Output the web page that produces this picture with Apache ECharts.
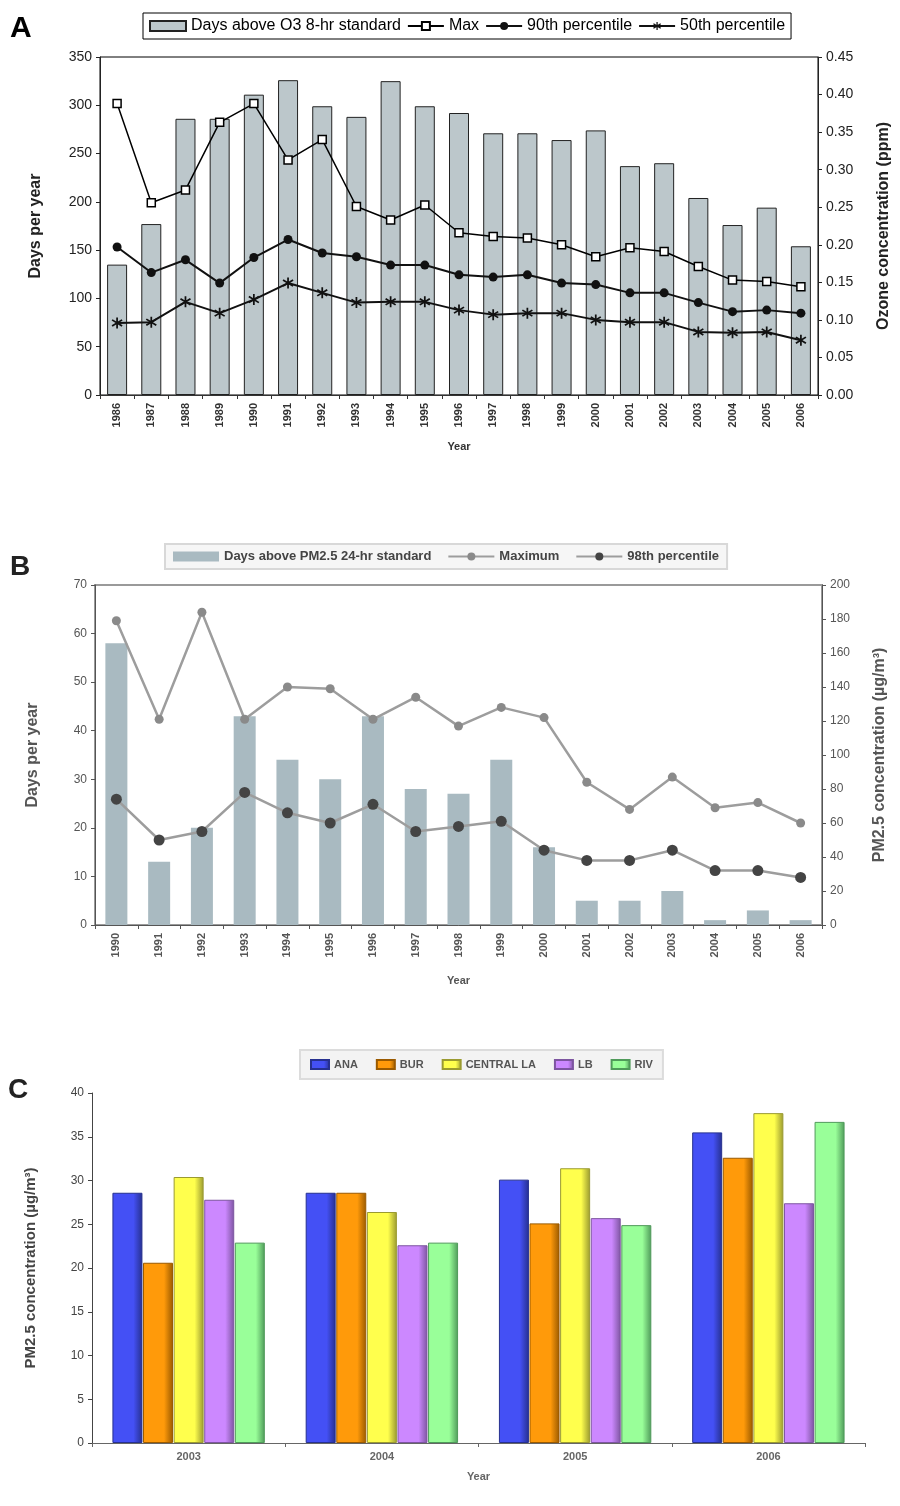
<!DOCTYPE html>
<html>
<head>
<meta charset="utf-8">
<script src="https://cdn.jsdelivr.net/npm/echarts@6/dist/echarts.min.js"></script>
<style>
  html, body { margin: 0; padding: 0; background: #fff; }
  #main { width: 900px; height: 1506px; }
</style>
</head>
<body>
<div id="main"></div>
<script>
// panel A: ozone
var yearsA = ['1986', '1987', '1988', '1989', '1990', '1991', '1992', '1993', '1994', '1995', '1996',
  '1997', '1998', '1999', '2000', '2001', '2002', '2003', '2004', '2005', '2006'];
var daysA = [135, 177, 286, 286, 311, 326, 299, 288, 325, 299, 292, 271, 271, 264, 274, 237, 240, 204, 176, 194, 154];
var maxA = [0.388, 0.256, 0.273, 0.363, 0.388, 0.313, 0.340, 0.251, 0.233, 0.253, 0.216,
  0.211, 0.209, 0.200, 0.184, 0.196, 0.191, 0.171, 0.153, 0.151, 0.144];
var p90A = [0.197, 0.163, 0.180, 0.149, 0.183, 0.207, 0.189, 0.184, 0.173, 0.173, 0.160,
  0.157, 0.160, 0.149, 0.147, 0.136, 0.136, 0.123, 0.111, 0.113, 0.109];
var p50A = [0.096, 0.097, 0.124, 0.109, 0.127, 0.149, 0.136, 0.123, 0.124, 0.124, 0.113,
  0.107, 0.109, 0.109, 0.100, 0.097, 0.097, 0.084, 0.083, 0.084, 0.073];

// panel B: PM2.5
var yearsB = ['1990', '1991', '1992', '1993', '1994', '1995', '1996', '1997', '1998', '1999',
  '2000', '2001', '2002', '2003', '2004', '2005', '2006'];
var daysB = [58, 13, 20, 43, 34, 30, 43, 28, 27, 34, 16, 5, 5, 7, 1, 3, 1];
var maxB = [179, 121, 184, 121, 140, 139, 121, 134, 117, 128, 122, 84, 68, 87, 69, 72, 60];
var p98B = [74, 50, 55, 78, 66, 60, 71, 55, 58, 61, 44, 38, 38, 44, 32, 32, 28];

// panel C: sites
var yearsC = ['2003', '2004', '2005', '2006'];
var sitesC = ['ANA', 'BUR', 'CENTRAL LA', 'LB', 'RIV'];
var site1 = [28.6, 28.6, 30.1, 35.5];
var site2 = [20.6, 28.6, 25.1, 32.6];
var site3 = [30.4, 26.4, 31.4, 37.7];
var site4 = [27.8, 22.6, 25.7, 27.4];
var site5 = [22.9, 22.9, 24.9, 36.7];
var coloursC = ['#4450f5', '#ff9a0a', '#ffff4d', '#cc88ff', '#99ff99'];
var edgesC = ['#26308f', '#9a5a00', '#9a9a30', '#7d55a0', '#4f9a5a'];

var FONT = 'Liberation Sans, Arial, sans-serif';
var asterisk = 'path://M4.3,0 L5.7,0 L5.7,10 L4.3,10 Z M0.6,2.8 L1.4,1.6 L9.4,7.2 L8.6,8.4 Z M0.6,7.2 L8.6,1.6 L9.4,2.8 L1.4,8.4 Z';

var chart = echarts.init(document.getElementById('main'), null, {width: 900, height: 1506});

function yAx(grid, min, max, step, pos, name, gap, col, size, nameSize, fmt) {
    return {
        type: 'value', gridIndex: grid, min: min, max: max, interval: step, position: pos,
        name: name, nameLocation: 'middle', nameGap: gap, nameRotate: 90,
        nameTextStyle: {color: col, fontSize: nameSize, fontFamily: FONT, fontWeight: 'bold'},
        axisLine: {show: true, lineStyle: {color: col, width: 1}},
        axisTick: {show: true, length: 4, lineStyle: {color: col}},
        axisLabel: {color: col, fontSize: size, fontFamily: FONT, formatter: fmt},
        splitLine: {show: false}
    };
}

function xAx(grid, data, col, size, rot, gap) {
    return {
        type: 'category', gridIndex: grid, data: data,
        name: 'Year', nameLocation: 'middle', nameGap: gap,
        nameTextStyle: {color: col, fontSize: size, fontFamily: FONT, fontWeight: 'bold'},
        axisLine: {lineStyle: {color: col}},
        axisTick: {show: true, length: 4, lineStyle: {color: col}},
        axisLabel: {color: col, fontSize: size, fontFamily: FONT, rotate: rot, margin: 8, fontWeight: 'bold'},
        splitLine: {show: false}
    };
}

var fix2 = function (v) { return v.toFixed(2); };

var option = {
    animation: false,
    backgroundColor: '#fff',
    textStyle: {fontFamily: FONT},
    graphic: [
        {type: 'text', left: 10, top: 14, style: {text: 'A', font: 'bold 30px ' + FONT, fill: '#000'}},
        {type: 'text', left: 10, top: 553, style: {text: 'B', font: 'bold 28px ' + FONT, fill: '#222'}},
        {type: 'text', left: 8, top: 1076, style: {text: 'C', font: 'bold 28px ' + FONT, fill: '#222'}}
    ],
    grid: [
        {left: 100, right: 75, top: 57, height: 338, show: true, borderColor: '#000', borderWidth: 1},
        {left: 95, right: 78, top: 585, height: 340, show: true, borderColor: '#9a9a9a', borderWidth: 2},
        {left: 92, right: 35, top: 1093, height: 350}
    ],
    legend: [
        {
            left: 143, top: 13, orient: 'horizontal',
            padding: [5, 6], itemGap: 6, itemWidth: 36, itemHeight: 10,
            borderColor: '#000', borderWidth: 1, backgroundColor: '#fff',
            textStyle: {color: '#000', fontSize: 16, fontFamily: FONT},
            data: [{name: 'Days above O3 8-hr standard', icon: 'rect'}, 'Max', '90th percentile', '50th percentile']
        },
        {
            left: 165, top: 544, padding: [6, 8], itemGap: 16, itemWidth: 46, itemHeight: 10,
            borderColor: '#d8d8d8', borderWidth: 2, backgroundColor: '#f6f6f6',
            textStyle: {color: '#444', fontSize: 13, fontFamily: FONT, fontWeight: 'bold'},
            data: [{name: 'Days above PM2.5 24-hr standard', icon: 'rect'}, 'Maximum', '98th percentile']
        },
        {
            left: 300, top: 1050, padding: [9, 10], itemGap: 18, itemWidth: 18, itemHeight: 9,
            borderColor: '#dcdcdc', borderWidth: 2, backgroundColor: '#f3f3f3',
            textStyle: {color: '#555', fontSize: 11, fontFamily: FONT, fontWeight: 'bold'},
            data: sitesC.map(function (s) { return {name: s, icon: 'rect'}; })
        }
    ],
    xAxis: [
        xAx(0, yearsA, '#333', 11, 90, 46),
        xAx(1, yearsB, '#555', 11, 90, 50),
        xAx(2, yearsC, '#666', 11, 0, 28)
    ],
    yAxis: [
        yAx(0, 0, 350, 50, 'left', 'Days per year', 56, '#222', 14, 16),
        yAx(0, 0, 0.45, 0.05, 'right', 'Ozone concentration (ppm)', 58, '#222', 14, 16, fix2),
        yAx(1, 0, 70, 10, 'left', 'Days per year', 54, '#555', 12, 16),
        yAx(1, 0, 200, 20, 'right', 'PM2.5 concentration (\u00b5g/m\u00b3)', 50, '#555', 12, 16),
        yAx(2, 0, 40, 5, 'left', 'PM2.5 concentration (\u00b5g/m\u00b3)', 54, '#444', 12, 15)
    ],
    series: [
        {
            name: 'Days above O3 8-hr standard', type: 'bar', xAxisIndex: 0, yAxisIndex: 0,
            data: daysA, barWidth: 20,
            itemStyle: {color: '#bcc7cb', borderColor: '#222', borderWidth: 1}
        },
        {
            name: 'Max', type: 'line', xAxisIndex: 0, yAxisIndex: 1, data: maxA,
            symbol: 'rect', symbolSize: 8,
            lineStyle: {color: '#000', width: 1.5},
            itemStyle: {color: '#fff', borderColor: '#000', borderWidth: 1.5}
        },
        {
            name: '90th percentile', type: 'line', xAxisIndex: 0, yAxisIndex: 1, data: p90A,
            symbol: 'circle', symbolSize: 9,
            lineStyle: {color: '#111', width: 2},
            itemStyle: {color: '#111'}
        },
        {
            name: '50th percentile', type: 'line', xAxisIndex: 0, yAxisIndex: 1, data: p50A,
            symbol: asterisk, symbolSize: 11,
            lineStyle: {color: '#111', width: 2},
            itemStyle: {color: '#111'}
        },
        {
            name: 'Days above PM2.5 24-hr standard', type: 'bar', xAxisIndex: 1, yAxisIndex: 2,
            data: daysB, barWidth: 22,
            itemStyle: {color: '#a9bac1'}
        },
        {
            name: 'Maximum', type: 'line', xAxisIndex: 1, yAxisIndex: 3, data: maxB,
            symbol: 'circle', symbolSize: 9,
            lineStyle: {color: '#9d9d9d', width: 2.5},
            itemStyle: {color: '#8a8a8a'}
        },
        {
            name: '98th percentile', type: 'line', xAxisIndex: 1, yAxisIndex: 3, data: p98B,
            symbol: 'circle', symbolSize: 11,
            lineStyle: {color: '#9d9d9d', width: 2.5},
            itemStyle: {color: '#444'}
        }
    ]
};

var siteData = [site1, site2, site3, site4, site5];
for (var i = 0; i < sitesC.length; i++) {
    option.series.push({
        name: sitesC[i], type: 'bar', xAxisIndex: 2, yAxisIndex: 4,
        data: siteData[i], barWidth: 30, barGap: '2%',
        itemStyle: {
            color: new echarts.graphic.LinearGradient(0, 0, 1, 0, [
                {offset: 0, color: coloursC[i]},
                {offset: 0.7, color: coloursC[i]},
                {offset: 1, color: edgesC[i]}
            ]),
            borderColor: edgesC[i], borderWidth: 1
        }
    });
}

chart.setOption(option);
</script>
</body>
</html>
